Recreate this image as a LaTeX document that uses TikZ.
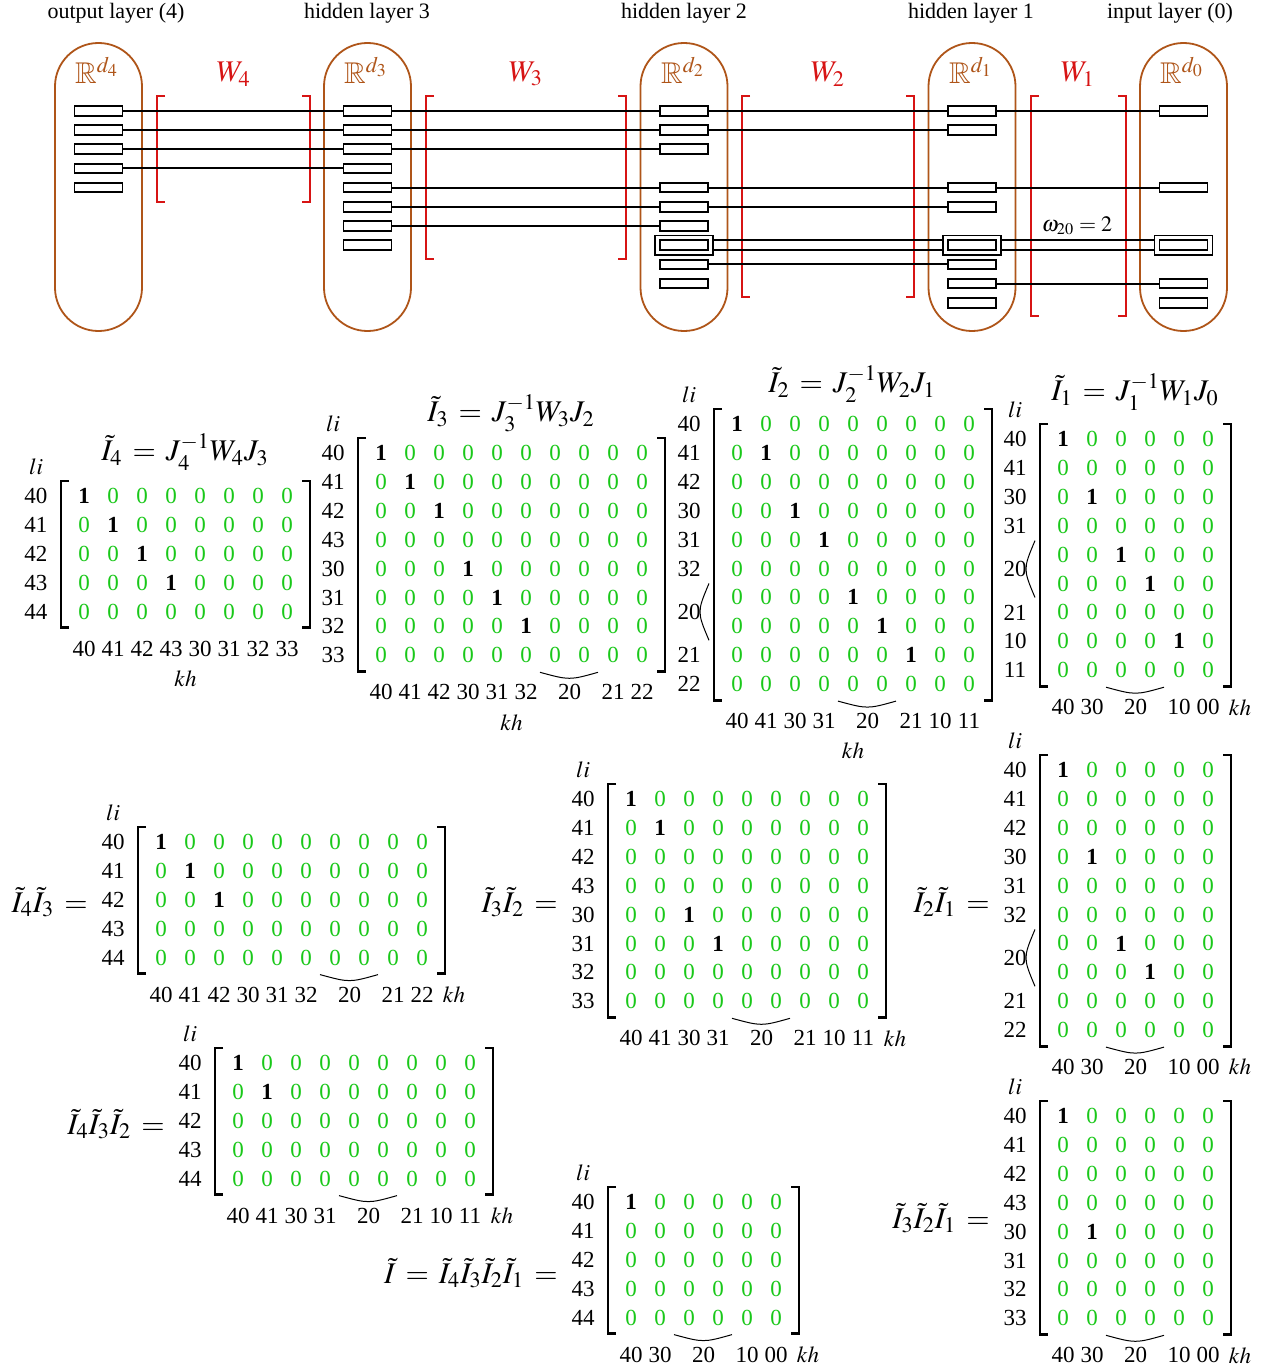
\documentclass[tikz,border=0pt]{standalone}
\usepackage{mathptmx}
\usepackage{amssymb}
\usepackage{fontspec}
\setmainfont{Liberation Serif}
\usetikzlibrary{calc}
\definecolor{zgreen}{RGB}{25,200,25}
\definecolor{lbrown}{RGB}{175,85,25}
\definecolor{wred}{RGB}{215,20,20}
\tikzset{
  cell/.style={inner sep=0pt, text=zgreen, font=\fontsize{11.5}{13}\selectfont},
  lab/.style={inner sep=0pt, font=\fontsize{11.5}{13}\selectfont},
  brk/.style={line width=1.45pt},
  thinarc/.style={line width=0.5pt},
  title/.style={inner sep=0pt, font=\fontsize{15}{17}\selectfont, execute at begin node={\thickmuskip=6mu plus 2mu}},
  toplab/.style={inner sep=0pt, font=\fontsize{11}{13}\selectfont},
  rlab/.style={inner sep=0pt, text=lbrown, font=\fontsize{15}{17}\selectfont},
  wlab/.style={inner sep=0pt, text=wred, font=\fontsize{15}{17}\selectfont},
  omlab/.style={inner sep=0pt, font=\fontsize{11}{13}\selectfont},
  layerbox/.style={draw=lbrown, line width=0.9pt, minimum width=43.5pt, minimum height=144pt, rounded corners=21.7pt, inner sep=0pt},
  neuron/.style={draw, line width=0.95pt, fill=white, minimum width=24pt, minimum height=4.8pt, inner sep=0pt},
  dbox/.style={draw, line width=0.95pt, minimum width=29pt, minimum height=9.75pt, inner sep=0pt},
  conn/.style={line width=1pt},
  wbrk/.style={draw=wred, line width=0.9pt},
}
% matrix: name, x0, y0, ncols, nrows, ones, row labels, col labels
\newcommand\Mat[8]{%
  \pgfmathsetmacro\mx{#2}\pgfmathsetmacro\my{#3}%
  \pgfmathsetmacro\mxl{#2+29*(#4-1)}\pgfmathsetmacro\myl{#3+28.9*(#5-1)}%
  \foreach \ri/\ci in {#6}{\expandafter\gdef\csname M#1-\ri-\ci\endcsname{1}}%
  \foreach \ri in {1,...,#5}{\foreach \ci in {1,...,#4}{%
    \node[cell] (#1-\ri-\ci) at ({#2+29*(\ci-1)},{#3+28.9*(\ri-1)})
      {\ifcsname M#1-\ri-\ci\endcsname\textcolor{black}{\bfseries 1}\else 0\fi};}}%
  \draw[brk] ({#2-23+8},{#3-15}) -| ({#2-23},{\myl+16}) -- ++(8,0);
  \draw[brk] ({\mxl+23-8},{#3-15}) -| ({\mxl+23},{\myl+16}) -- ++(-8,0);
  \foreach \tx/\ps in {#7}{\node[lab] (#1-r\tx) at ({#2-48},{#3+28.9*(\ps-1)}) {\tx};}%
  \node[lab] (#1-li) at ({#2-48},{#3-29}) {$li$};
  \foreach \tx/\ps in {#8}{\node[lab] (#1-c\tx) at ({#2+29*(\ps-1)},{\myl+37}) {\tx};}%
}
\newcommand\Arc[1]{\draw[thinarc] ({\mx+29*(#1-1)-15},{\myl+17}) .. controls ({\mx+29*(#1-1)+14.5},{\myl+25}) .. ({\mx+29*#1+14},{\myl+17});}
\newcommand\Paren[1]{\draw[thinarc] ({\mx-28},{\my+28.9*(#1-1)-14}) .. controls ({\mx-40},{\my+28.9*(#1-0.5)}) .. ({\mx-28},{\my+28.9*#1+14});}
\newcommand\KhB[1]{\node[lab] (#1-kh) at ({(\mx+\mxl)/2},{\myl+67}) {$kh$};}
\newcommand\KhR[1]{\node[lab] (#1-kh) at ({\mxl+32},{\myl+37}) {$kh$};}
\begin{document}
\begin{tikzpicture}[x=0.5pt,y=-0.5pt]
\fill[white] (0,0) rectangle (1268,1370);
\useasboundingbox (0,0) rectangle (1268,1370);

% ---------- network ----------
\node[toplab] (t4) at (116,13) {output layer (4)};
\node[toplab] (t3) at (367,13) {hidden layer 3};
\node[toplab] (t2) at (684,13) {hidden layer 2};
\node[toplab] (t1) at (971,13) {hidden layer 1};
\node[toplab] (t0) at (1170,13) {input layer (0)};

\node[layerbox] (S4) at (98.5,187) {};
\node[layerbox] (S3) at (367.5,187) {};
\node[layerbox] (S2) at (684,187) {};
\node[layerbox] (S1) at (972,187) {};
\node[layerbox] (S0) at (1183.5,187) {};

\node[rlab] (R4) at (97,70) {$\mathbb{R}^{d_4}$};
\node[rlab] (R3) at (366,70) {$\mathbb{R}^{d_3}$};
\node[rlab] (R2) at (683,70) {$\mathbb{R}^{d_2}$};
\node[rlab] (R1) at (971,70) {$\mathbb{R}^{d_1}$};
\node[rlab] (R0) at (1182,70) {$\mathbb{R}^{d_0}$};

\node[wlab] (W4) at (233.7,74) {$W_4$};
\node[wlab] (W3) at (526,74) {$W_3$};
\node[wlab] (W2) at (828,74) {$W_2$};
\node[wlab] (W1) at (1078,74) {$W_1$};

\draw[wbrk] (165,96) -| (157,202) -- ++(8,0);
\draw[wbrk] (302,96) -| (310,202) -- ++(-8,0);
\draw[wbrk] (434,96) -| (426,259) -- ++(8,0);
\draw[wbrk] (618,96) -| (626,259) -- ++(-8,0);
\draw[wbrk] (750,96) -| (742,297) -- ++(8,0);
\draw[wbrk] (906,96) -| (914,297) -- ++(-8,0);
\draw[wbrk] (1039,96) -| (1031,316) -- ++(8,0);
\draw[wbrk] (1118,96) -| (1126,316) -- ++(-8,0);

\foreach \k in {1,...,5} \node[neuron] (n4-\k) at (98.5,{110.8+19.2*(\k-1)}) {};
\foreach \k in {1,...,8} \node[neuron] (n3-\k) at (367.5,{110.8+19.2*(\k-1)}) {};
\foreach \k in {1,2,3,5,6,7,8,9,10} \node[neuron] (n2-\k) at (684,{110.8+19.2*(\k-1)}) {};
\foreach \k in {1,2,5,6,8,9,10,11} \node[neuron] (n1-\k) at (972,{110.8+19.2*(\k-1)}) {};
\foreach \k in {1,5,8,10,11} \node[neuron] (n0-\k) at (1183.5,{110.8+19.2*(\k-1)}) {};
\node[dbox] (d2) at (684,245.2) {};
\node[dbox] (d1) at (972,245.2) {};
\node[dbox] (d0) at (1183.5,245.2) {};

\foreach \k in {1,2,3,4} \draw[conn] (n4-\k.east) -- (n3-\k.west);
\foreach \k in {1,2,3,5,6,7} \draw[conn] (n3-\k.east) -- (n2-\k.west);
\foreach \k in {1,2,5,6,9} \draw[conn] (n2-\k.east) -- (n1-\k.west);
\foreach \k in {1,5,10} \draw[conn] (n1-\k.east) -- (n0-\k.west);
\draw[conn] ([yshift=2.4pt]d2.east) -- ([yshift=2.4pt]d1.west);
\draw[conn] ([yshift=-2.4pt]d2.east) -- ([yshift=-2.4pt]d1.west);
\draw[conn] ([yshift=2.4pt]d1.east) -- ([yshift=2.4pt]d0.west);
\draw[conn] ([yshift=-2.4pt]d1.east) -- ([yshift=-2.4pt]d0.west);
\node[omlab] (om) at (1077,226) {$\omega_{20} = 2$};

% ---------- matrices ----------
\Mat{A}{84}{496}{8}{5}{1/1,2/2,3/3,4/4}{40/1,41/2,42/3,43/4,44/5}{40/1,41/2,42/3,43/4,30/5,31/6,32/7,33/8}
\KhB{A}
\node[title] (tA) at (185,452) {$\tilde I_4 = J_4^{-1}W_4J_3$};

\Mat{B}{381}{453}{10}{8}{1/1,2/2,3/3,5/4,6/5,7/6}{40/1,41/2,42/3,43/4,30/5,31/6,32/7,33/8}{40/1,41/2,42/3,30/4,31/5,32/6,20/7.5,21/9,22/10}
\Arc{7}\KhB{B}
\node[title] (tB) at (511,413) {$\tilde I_3 = J_3^{-1}W_3J_2$};

\Mat{C}{737}{424}{9}{10}{1/1,2/2,4/3,5/4,7/5,8/6,9/7}{40/1,41/2,42/3,30/4,31/5,32/6,20/7.5,21/9,22/10}{40/1,41/2,30/3,31/4,20/5.5,21/7,10/8,11/9}
\Arc{5}\Paren{7}\KhB{C}
\node[title] (tC) at (852,384) {$\tilde I_2 = J_2^{-1}W_2J_1$};

\Mat{D}{1063}{439}{6}{9}{1/1,3/2,5/3,6/4,8/5}{40/1,41/2,30/3,31/4,20/5.5,21/7,10/8,11/9}{40/1,30/2,20/3.5,10/5,00/6}
\Arc{3}\Paren{5}\KhR{D}
\node[title] (tD) at (1135,392) {$\tilde I_1 = J_1^{-1}W_1J_0$};

\Mat{E}{161}{842}{10}{5}{1/1,2/2,3/3}{40/1,41/2,42/3,43/4,44/5}{40/1,41/2,42/3,30/4,31/5,32/6,20/7.5,21/9,22/10}
\Arc{7}\KhR{E}
\node[title,anchor=east] (tE) at (88,902) {$\tilde I_4\tilde I_3 =$};

\Mat{F}{631}{799}{9}{8}{1/1,2/2,5/3,6/4}{40/1,41/2,42/3,43/4,30/5,31/6,32/7,33/8}{40/1,41/2,30/3,31/4,20/5.5,21/7,10/8,11/9}
\Arc{5}\KhR{F}
\node[title,anchor=east] (tF) at (558,902) {$\tilde I_3\tilde I_2 =$};

\Mat{G}{1063}{770}{6}{10}{1/1,4/2,7/3,8/4}{40/1,41/2,42/3,30/4,31/5,32/6,20/7.5,21/9,22/10}{40/1,30/2,20/3.5,10/5,00/6}
\Arc{3}\Paren{7}\KhR{G}
\node[title,anchor=east] (tG) at (990,902) {$\tilde I_2\tilde I_1 =$};

\Mat{H}{238}{1063}{9}{5}{1/1,2/2}{40/1,41/2,42/3,43/4,44/5}{40/1,41/2,30/3,31/4,20/5.5,21/7,10/8,11/9}
\Arc{5}\KhR{H}
\node[title,anchor=east] (tH) at (165,1124) {$\tilde I_4\tilde I_3\tilde I_2 =$};

\Mat{K}{631}{1202}{6}{5}{1/1}{40/1,41/2,42/3,43/4,44/5}{40/1,30/2,20/3.5,10/5,00/6}
\Arc{3}\KhR{K}
\node[title,anchor=east] (tK) at (558,1273) {$\tilde I = \tilde I_4\tilde I_3\tilde I_2\tilde I_1 =$};

\Mat{L}{1063}{1116}{6}{8}{1/1,5/2}{40/1,41/2,42/3,43/4,30/5,31/6,32/7,33/8}{40/1,30/2,20/3.5,10/5,00/6}
\Arc{3}\KhR{L}
\node[title,anchor=east] (tL) at (990,1218) {$\tilde I_3\tilde I_2\tilde I_1 =$};
\end{tikzpicture}
\end{document}
